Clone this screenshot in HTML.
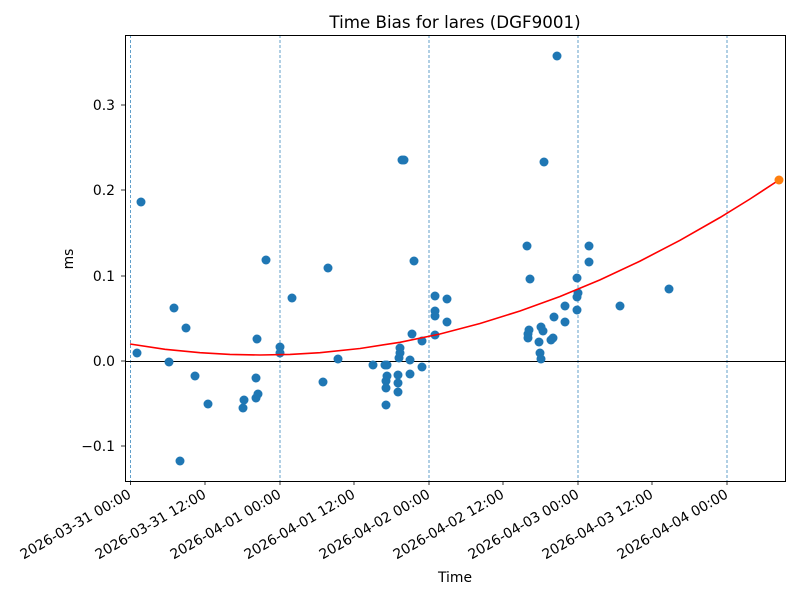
<!DOCTYPE html>
<html><head><meta charset="utf-8"><style>
html,body{margin:0;padding:0;background:#fff;}
svg{display:block;font-family:"DejaVu Sans","Liberation Sans",sans-serif;}
</style></head><body>
<svg width="800" height="600" viewBox="0 0 800 600" xmlns="http://www.w3.org/2000/svg">
<rect width="800" height="600" fill="#fff"/>
<text x="455" y="28" font-size="16.7" text-anchor="middle">Time Bias for lares (DGF9001)</text>
<g stroke="#1f77b4" stroke-width="0.7" stroke-dasharray="3,2">
<line x1="130.5" y1="35" x2="130.5" y2="481"/>
<line x1="280" y1="35" x2="280" y2="481"/>
<line x1="429" y1="35" x2="429" y2="481"/>
<line x1="578" y1="35" x2="578" y2="481"/>
<line x1="727" y1="35" x2="727" y2="481"/>
</g>
<line x1="125" y1="361.5" x2="785" y2="361.5" stroke="#000" stroke-width="1"/>
<g fill="#1f77b4">
<circle cx="137" cy="353" r="4.5"/><circle cx="141" cy="202" r="4.5"/><circle cx="169" cy="362" r="4.5"/><circle cx="174" cy="308" r="4.5"/><circle cx="180" cy="461" r="4.5"/><circle cx="186" cy="328" r="4.5"/><circle cx="195" cy="376" r="4.5"/><circle cx="208" cy="404" r="4.5"/><circle cx="243" cy="408" r="4.5"/><circle cx="244" cy="400" r="4.5"/><circle cx="256" cy="398" r="4.5"/><circle cx="258" cy="394" r="4.5"/><circle cx="256" cy="378" r="4.5"/><circle cx="257" cy="339" r="4.5"/><circle cx="266" cy="260" r="4.5"/><circle cx="280" cy="347" r="4.5"/><circle cx="280" cy="353" r="4.5"/><circle cx="292" cy="298" r="4.5"/><circle cx="323" cy="382" r="4.5"/><circle cx="328" cy="268" r="4.5"/><circle cx="338" cy="359" r="4.5"/><circle cx="373" cy="365" r="4.5"/><circle cx="385" cy="365" r="4.5"/><circle cx="386" cy="381" r="4.5"/><circle cx="386" cy="388" r="4.5"/><circle cx="387" cy="376" r="4.5"/><circle cx="386" cy="405" r="4.5"/><circle cx="387" cy="365" r="4.5"/><circle cx="398" cy="392" r="4.5"/><circle cx="398" cy="383" r="4.5"/><circle cx="398" cy="375" r="4.5"/><circle cx="399" cy="358" r="4.5"/><circle cx="400" cy="348" r="4.5"/><circle cx="400" cy="353" r="4.5"/><circle cx="402" cy="160" r="4.5"/><circle cx="404" cy="160" r="4.5"/><circle cx="410" cy="360" r="4.5"/><circle cx="410" cy="374" r="4.5"/><circle cx="412" cy="334" r="4.5"/><circle cx="414" cy="261" r="4.5"/><circle cx="422" cy="341" r="4.5"/><circle cx="422" cy="367" r="4.5"/><circle cx="435" cy="296" r="4.5"/><circle cx="435" cy="311" r="4.5"/><circle cx="435" cy="316" r="4.5"/><circle cx="435" cy="335" r="4.5"/><circle cx="447" cy="299" r="4.5"/><circle cx="447" cy="322" r="4.5"/><circle cx="527" cy="246" r="4.5"/><circle cx="528" cy="338" r="4.5"/><circle cx="528" cy="334" r="4.5"/><circle cx="529" cy="330" r="4.5"/><circle cx="530" cy="279" r="4.5"/><circle cx="539" cy="342" r="4.5"/><circle cx="540" cy="353" r="4.5"/><circle cx="541" cy="359" r="4.5"/><circle cx="541" cy="327" r="4.5"/><circle cx="543" cy="331" r="4.5"/><circle cx="544" cy="162" r="4.5"/><circle cx="551" cy="340" r="4.5"/><circle cx="553" cy="338" r="4.5"/><circle cx="554" cy="317" r="4.5"/><circle cx="557" cy="56" r="4.5"/><circle cx="565" cy="306" r="4.5"/><circle cx="565" cy="322" r="4.5"/><circle cx="577" cy="278" r="4.5"/><circle cx="577" cy="297" r="4.5"/><circle cx="578" cy="293" r="4.5"/><circle cx="577" cy="310" r="4.5"/><circle cx="589" cy="246" r="4.5"/><circle cx="589" cy="262" r="4.5"/><circle cx="620" cy="306" r="4.5"/><circle cx="669" cy="289" r="4.5"/>
</g>
<polyline points="130,344 165,349.3 200,352.7 230,354.4 260,355 290,354.4 320,352.7 360,348.5 400,342.3 440,334 480,323.5 520,311 560,296.5 600,279.9 640,261.1 680,240.3 720,217.5 750,199 779,180" fill="none" stroke="#ff0000" stroke-width="1.6"/>
<circle cx="779" cy="180" r="4.5" fill="#ff7f0e"/>
<rect x="125.5" y="35.5" width="660" height="446" fill="none" stroke="#000" stroke-width="1"/>
<g stroke="#000" stroke-width="0.8">
<line x1="121" y1="105" x2="125" y2="105"/><line x1="121" y1="190" x2="125" y2="190"/><line x1="121" y1="276" x2="125" y2="276"/><line x1="121" y1="361" x2="125" y2="361"/><line x1="121" y1="446" x2="125" y2="446"/>
<line x1="130.5" y1="481" x2="130.5" y2="485"/><line x1="205" y1="481" x2="205" y2="485"/><line x1="280" y1="481" x2="280" y2="485"/><line x1="354" y1="481" x2="354" y2="485"/><line x1="429" y1="481" x2="429" y2="485"/><line x1="503" y1="481" x2="503" y2="485"/><line x1="578" y1="481" x2="578" y2="485"/><line x1="652" y1="481" x2="652" y2="485"/><line x1="727" y1="481" x2="727" y2="485"/>
</g>
<g font-size="13.9" text-anchor="end">
<text x="115" y="110">0.3</text><text x="115" y="195">0.2</text><text x="115" y="281">0.1</text><text x="115" y="366">0.0</text><text x="115" y="451">−0.1</text>
</g>
<g font-size="13.9" text-anchor="end">
<text transform="translate(132,497) rotate(-30)">2026-03-31 00:00</text>
<text transform="translate(207,497) rotate(-30)">2026-03-31 12:00</text>
<text transform="translate(282,497) rotate(-30)">2026-04-01 00:00</text>
<text transform="translate(356,497) rotate(-30)">2026-04-01 12:00</text>
<text transform="translate(431,497) rotate(-30)">2026-04-02 00:00</text>
<text transform="translate(505,497) rotate(-30)">2026-04-02 12:00</text>
<text transform="translate(580,497) rotate(-30)">2026-04-03 00:00</text>
<text transform="translate(654,497) rotate(-30)">2026-04-03 12:00</text>
<text transform="translate(729,497) rotate(-30)">2026-04-04 00:00</text>
</g>
<text x="455" y="582" font-size="13.9" text-anchor="middle">Time</text>
<text transform="translate(73,259) rotate(-90)" font-size="13.9" text-anchor="middle">ms</text>
</svg>
</body></html>
